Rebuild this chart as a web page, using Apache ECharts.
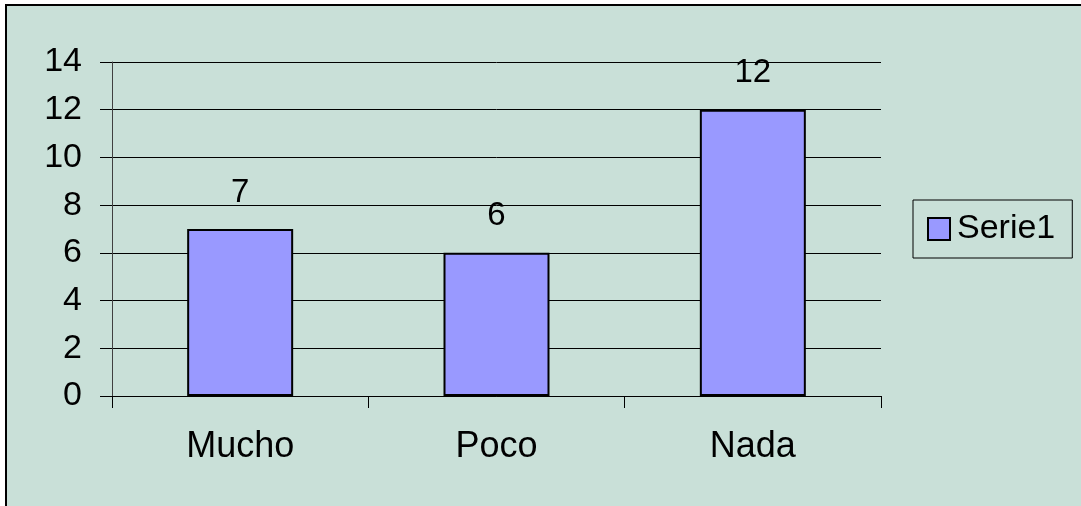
<!DOCTYPE html>
<html>
<head>
<meta charset="utf-8">
<script src="https://cdn.jsdelivr.net/npm/echarts@6/dist/echarts.min.js"></script>
<style>
    html, body { margin: 0; padding: 0; background: #fff; }
    #chart { width: 1081px; height: 506px; }
</style>
</head>
<body>
<div id="chart"></div>
<script>
const categories = ['Mucho', 'Poco', 'Nada'];
const serie1 = [7, 6, 12];
const yTicks = [0, 2, 4, 6, 8, 10, 12, 14];

const chart = echarts.init(document.getElementById('chart'));

const font = 'Liberation Sans, Arial, sans-serif';

chart.setOption({
    backgroundColor: '#fff',
    animation: false,
    textStyle: { fontFamily: font, color: '#000' },
    graphic: [
        {
            // chart area background with black border top/left
            type: 'rect',
            z: -10,
            shape: { x: 6, y: 5, width: 1100, height: 520 },
            style: { fill: '#c9e0d8', stroke: '#000', lineWidth: 2 }
        }
    ],
    grid: { left: 112, right: 200, top: 62, bottom: 110 },
    legend: {
        data: ['Serie1'],
        left: 913,
        top: 200,
        orient: 'vertical',
        icon: 'rect',
        itemWidth: 22,
        itemHeight: 22,
        itemGap: 0,
        padding: [12, 17, 12, 14],
        borderColor: '#000',
        borderWidth: 1,
        itemStyle: { color: '#9999ff', borderColor: '#000', borderWidth: 2 },
        textStyle: { fontSize: 34, fontFamily: font, color: '#000', padding: [0, 0, 0, 2] }
    },
    xAxis: {
        type: 'category',
        data: categories,
        axisLine: { lineStyle: { color: '#000', width: 1 } },
        axisTick: { show: true, length: 12, lineStyle: { color: '#000' } },
        axisLabel: { fontSize: 36, color: '#000', margin: 33, fontFamily: font }
    },
    yAxis: {
        type: 'value',
        min: 0,
        max: yTicks[yTicks.length - 1],
        interval: 2,
        axisLine: { show: true, lineStyle: { color: '#404040', width: 1 } },
        axisTick: { show: true, length: 12, lineStyle: { color: '#000' } },
        axisLabel: { fontSize: 34, color: '#000', margin: 30, fontFamily: font },
        splitLine: { show: true, lineStyle: { color: '#000', width: 1 } }
    },
    series: [
        {
            name: 'Serie1',
            type: 'bar',
            data: serie1,
            barWidth: 106,
            itemStyle: { color: '#9999ff', borderColor: '#000', borderWidth: 2 },
            label: {
                show: true,
                position: 'top',
                distance: 20,
                fontSize: 33,
                color: '#000',
                fontFamily: font
            }
        }
    ]
});
</script>
</body>
</html>
